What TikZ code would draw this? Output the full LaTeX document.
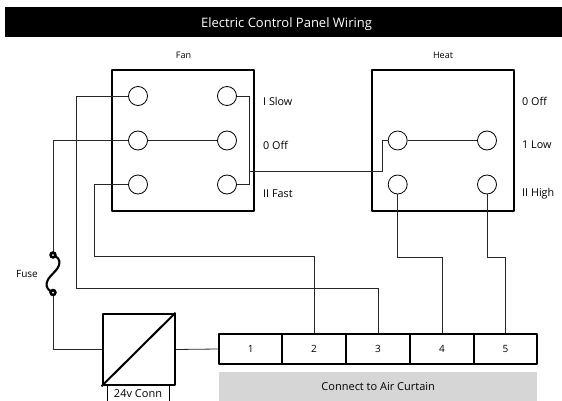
\documentclass[tikz,border=0pt]{standalone}
\usepackage{fontspec}
\setmainfont{Open Sans}
\begin{document}
\begin{tikzpicture}[x=1pt,y=-1pt,
  thick box/.style={draw=black,line width=2pt,line join=round,minimum height=30pt,inner sep=0pt},
  term/.style={thick box,fill=white,minimum width=63.7pt,font=\fontsize{10}{12}\selectfont},
  panel/.style={thick box,minimum width=142.5pt,minimum height=141pt},
  port/.style={draw=black,line width=0.8pt,circle,minimum size=19pt,inner sep=0pt,fill=white},
  wire/.style={draw=black!85,line width=0.8pt},
  lab/.style={font=\fontsize{10.8}{12}\selectfont,inner sep=0pt,anchor=west},
  smalllab/.style={font=\fontsize{9}{10}\selectfont,inner sep=0pt}]
\useasboundingbox (0,0) rectangle (562,401);
\node[fill=black,text=white,minimum width=557pt,minimum height=30pt,inner sep=0pt,anchor=north west] (title) at (5,7) {};
\node[text=white,inner sep=0pt,font=\fontsize{13}{15}\selectfont] (titletext) at (286.5,24) {Electric Control Panel Wiring};
\node[smalllab] (fanlab) at (183.5,55) {Fan};
\node[smalllab] (heatlab) at (443,55) {Heat};
\node[panel] (fan) at (183.2,140.5) {};
\node[panel] (heat) at (443,140.5) {};
\node[port] (f1) at (138,96) {};
\node[port] (f2) at (227,96) {};
\node[port] (f3) at (138,140.5) {};
\node[port] (f4) at (227,140.5) {};
\node[port] (f5) at (138,184.5) {};
\node[port] (f6) at (227,184.5) {};
\node[port] (h1) at (397.7,140.5) {};
\node[port] (h2) at (487,140.5) {};
\node[port] (h3) at (397.7,184.5) {};
\node[port] (h4) at (487,184.5) {};
\node[lab] (l1) at (263,101) {I Slow};
\node[lab] (l2) at (263,145) {0 Off};
\node[lab] (l3) at (263,194) {II Fast};
\node[lab] (l4) at (522,101) {0 Off};
\node[lab] (l5) at (522,145) {1 Low};
\node[lab] (l6) at (522,194) {II High};
\node[thick box,minimum width=72pt,minimum height=71.5pt] (conv) at (138.5,349.5) {};
\draw[black,line width=2pt] (conv.south west) -- (conv.north east);
\node[draw=black,line width=0.8pt,minimum width=62pt,minimum height=17pt,inner sep=0pt,anchor=north,font=\fontsize{11}{12}\selectfont] (conn) at (138,385) {\raisebox{-1pt}{24v Conn}};
\node[term] (t1) at (250.8,349) {\raisebox{-1.5pt}{1}};
\node[term] (t2) at (314,349) {\raisebox{-1.5pt}{2}};
\node[term] (t3) at (378,349) {\raisebox{-1.5pt}{3}};
\node[term] (t4) at (442,349) {\raisebox{-1.5pt}{4}};
\node[term] (t5) at (505.5,349) {\raisebox{-1.5pt}{5}};
\node[fill=black!16,minimum width=318pt,minimum height=29pt,inner sep=0pt,anchor=north west,font=\fontsize{11}{12}\selectfont] (curtain) at (219,372) {Connect to Air Curtain};
\coordinate (fa) at (53,255);
\coordinate (fb) at (53,292.5);
\node[smalllab,anchor=east,font=\fontsize{10}{12}\selectfont] (fuselab) at (38,274) {Fuse};
\draw[wire] (f1.west) -- (76,96) |- (t3.north |- 0,288.5) -- (t3.north);
\draw[wire] (f3.west) -- (53,140.5) -- (fa);
\draw[wire] (fb) |- (conv.west);
\draw[wire] (conv.east) -- (t1.west);
\draw[wire] (f5.west) -- (94,184.5) |- (t2.north |- 0,256) -- (t2.north);
\draw[wire] (f3.east) -- (f4.west);
\draw[wire] (f2.east) -- (249.5,96) |- (f6.east);
\draw[wire] (249.5,171) -- (382.5,171) |- (h1.west);
\draw[wire] (h1.east) -- (h2.west);
\draw[wire] (h3.south) |- (t4.north |- 0,257.5) -- (t4.north);
\draw[wire] (h4.south) |- (t5.north |- 0,257.5) -- (t5.north);
\draw[black,line width=2.1pt] (fa) .. controls (63,259) and (60,267) .. (53,273.5) .. controls (46,280) and (43,288) .. (fb);
\fill[black] (fa) circle (3.8pt) (fb) circle (3.8pt);
\fill[white] (fa) circle (1pt) (fb) circle (1pt);
\end{tikzpicture}
\end{document}
